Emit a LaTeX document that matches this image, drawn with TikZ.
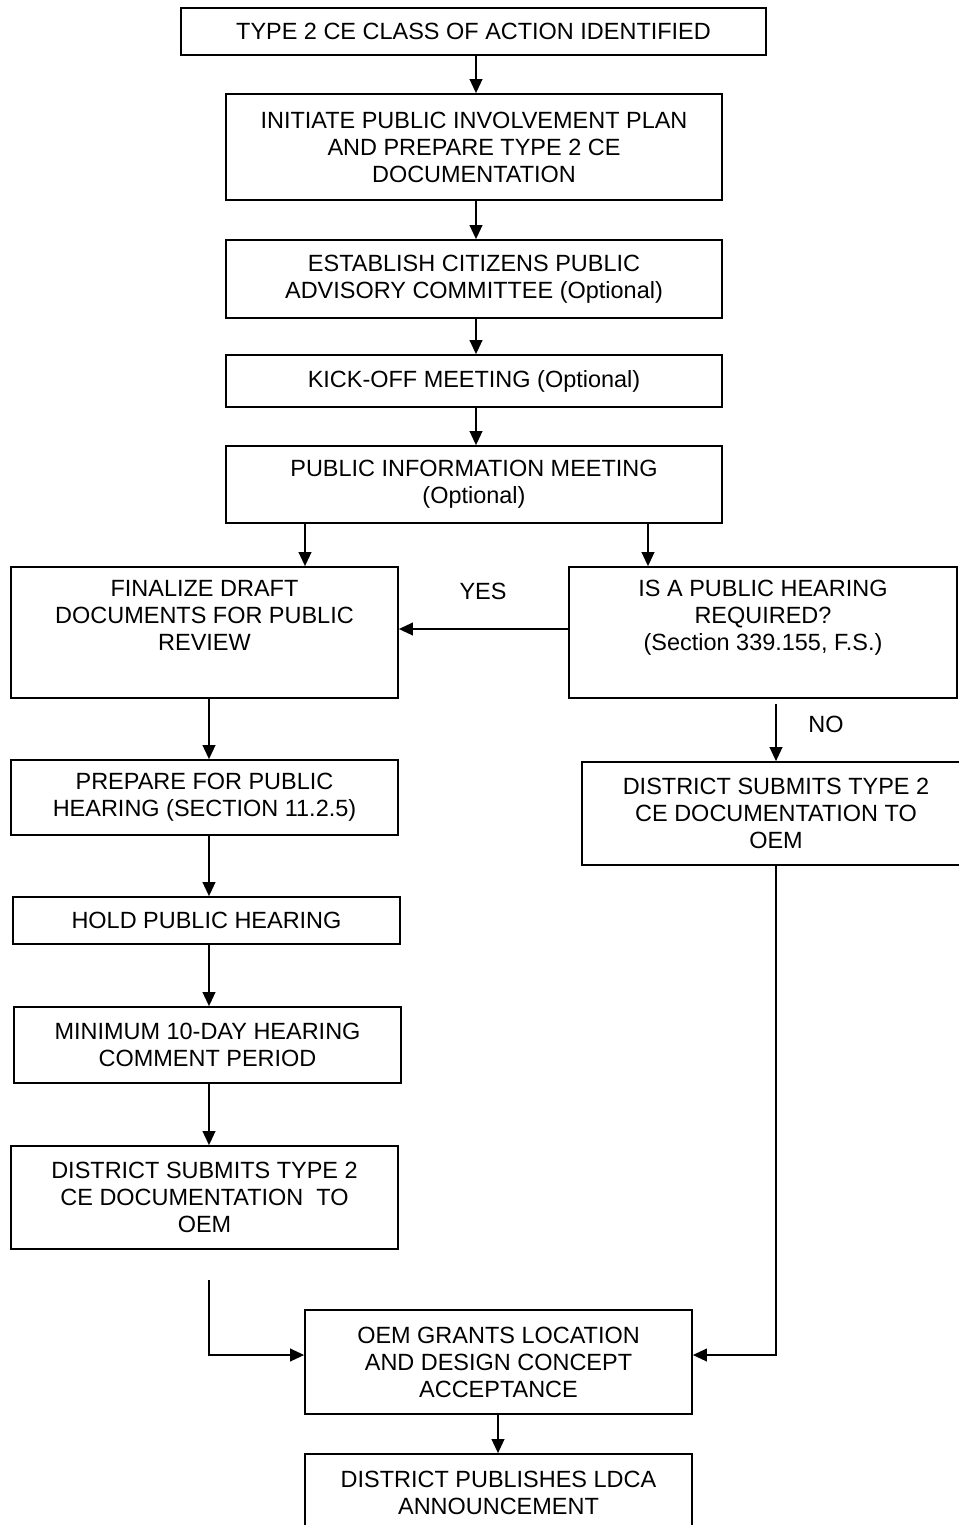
\documentclass[tikz,border=0pt]{standalone}
\usepackage{fontspec}
\setmainfont{Liberation Sans}
\usetikzlibrary{arrows.meta}
\begin{document}
\begin{tikzpicture}[x=0.75pt,y=-0.75pt,
  box/.style={draw,line width=1.3pt,align=center,inner sep=0pt,
    font=\fontsize{17.6}{20.25}\selectfont},
  lbl/.style={inner sep=0pt,font=\fontsize{17.6}{20.25}\selectfont},
  arr/.style={line width=1.3pt,-{Triangle[length=10.5pt,width=9.5pt]}},
  ln/.style={line width=1.3pt}]
\useasboundingbox (0,0) rectangle (959,1525);
\node[box,minimum width=585*0.75pt,minimum height=47*0.75pt] (t1) at (473.5,31.5) {TYPE 2 CE CLASS OF ACTION IDENTIFIED};
\node[box,minimum width=496*0.75pt,minimum height=106*0.75pt] (t2) at (474,147) {INITIATE PUBLIC INVOLVEMENT PLAN\\AND PREPARE TYPE 2 CE\\DOCUMENTATION};
\node[box,minimum width=496*0.75pt,minimum height=78*0.75pt] (t3) at (474,279) {ESTABLISH CITIZENS PUBLIC\\ADVISORY COMMITTEE (Optional)};
\node[box,minimum width=496*0.75pt,minimum height=52*0.75pt] (t4) at (474,381) {KICK-OFF MEETING (Optional)};
\node[box,minimum width=496*0.75pt,minimum height=77*0.75pt] (pim) at (474,484.5) {PUBLIC INFORMATION MEETING\\(Optional)};
\node[box,minimum width=387*0.75pt,minimum height=131*0.75pt] (fin) at (204.5,632.5) {FINALIZE DRAFT\\DOCUMENTS FOR PUBLIC\\REVIEW\\ \strut};
\node[box,minimum width=388*0.75pt,minimum height=131*0.75pt] (req) at (763,632.5) {IS A PUBLIC HEARING\\REQUIRED?\\(Section 339.155, F.S.)\\ \strut};
\node[box,minimum width=387*0.75pt,minimum height=75*0.75pt] (prep) at (204.5,797.5) {PREPARE FOR PUBLIC\\HEARING (SECTION 11.2.5)};
\node[box,minimum width=387*0.75pt,minimum height=47*0.75pt] (hold) at (206.5,920.5) {HOLD PUBLIC HEARING};
\node[box,minimum width=387*0.75pt,minimum height=76*0.75pt] (min) at (207.5,1045) {MINIMUM 10-DAY HEARING\\COMMENT PERIOD};
\node[box,minimum width=387*0.75pt,minimum height=103*0.75pt] (dsl) at (204.5,1197.5) {DISTRICT SUBMITS TYPE 2\\CE DOCUMENTATION~~TO\\OEM};
\node[box,minimum width=388*0.75pt,minimum height=103*0.75pt] (dsr) at (776,813.5) {DISTRICT SUBMITS TYPE 2\\CE DOCUMENTATION TO\\OEM};
\node[box,minimum width=387*0.75pt,minimum height=104*0.75pt] (oem) at (498.5,1362) {OEM GRANTS LOCATION\\AND DESIGN CONCEPT\\ACCEPTANCE};
\node[box,minimum width=387*0.75pt,minimum height=77*0.75pt] (pub) at (498.5,1492.5) {DISTRICT PUBLISHES LDCA\\ANNOUNCEMENT};
\node[lbl] (yes) at (483,591) {YES};
\node[lbl] (no) at (826,724) {NO};
\coordinate (c1) at (209,1280);
\draw[arr] (t1.south -| 476,0) -- (t2.north -| 476,0);
\draw[arr] (t2.south -| 476,0) -- (t3.north -| 476,0);
\draw[arr] (t3.south -| 476,0) -- (t4.north -| 476,0);
\draw[arr] (t4.south -| 476,0) -- (pim.north -| 476,0);
\draw[arr] (pim.south -| 305,0) -- (fin.north -| 305,0);
\draw[arr] (pim.south -| 648,0) -- (req.north -| 648,0);
\draw[arr] (req.west |- 0,629) -- (fin.east |- 0,629);
\draw[arr] (fin.south -| 209,0) -- (prep.north -| 209,0);
\draw[arr] (prep.south -| 209,0) -- (hold.north -| 209,0);
\draw[arr] (hold.south -| 209,0) -- (min.north -| 209,0);
\draw[arr] (min.south -| 209,0) -- (dsl.north -| 209,0);
\draw[arr] ([yshift=-5*0.75pt]req.south -| 776,0) -- (dsr.north -| 776,0);
\draw[arr] (c1) |- (oem.west |- 0,1355);
\draw[arr] (dsr.south -| 776,0) |- (oem.east |- 0,1355);
\draw[arr] (oem.south -| 498,0) -- (pub.north -| 498,0);
\end{tikzpicture}
\end{document}
